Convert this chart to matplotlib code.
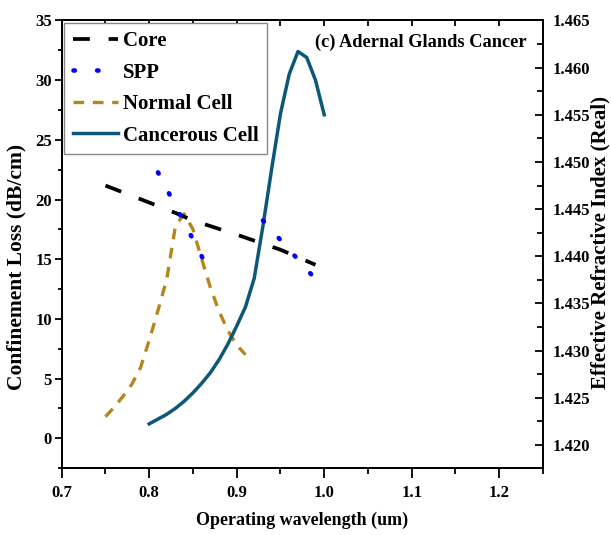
import numpy as np
import matplotlib
matplotlib.use("Agg")
import matplotlib.pyplot as plt
from matplotlib.ticker import MultipleLocator, FormatStrFormatter

plt.rcParams['font.family'] = ['Liberation Serif', 'DejaVu Serif']
plt.rcParams['font.weight'] = 'bold'

# ---- data ----
core_x = [0.75, 0.80, 0.83, 0.85, 0.90, 0.95, 0.99]
core_n = [1.4475, 1.4457, 1.4446, 1.4438, 1.4423, 1.4407, 1.4391]

spp_x = [0.81, 0.84, 0.865, 0.90, 0.93, 0.96, 0.985]
spp_n = [1.4489, 1.4436, 1.4391, np.nan, 1.4438, 1.4407, 1.4381]

normal_x = [0.75, 0.76, 0.77, 0.78, 0.79, 0.80, 0.81, 0.82, 0.83, 0.84,
            0.85, 0.86, 0.87, 0.88, 0.89, 0.90, 0.91]
normal_loss = [1.8, 2.6, 3.5, 4.5, 5.9, 8.2, 10.7, 13.3, 17.8, 18.8,
               17.5, 15.0, 12.6, 10.6, 9.0, 7.8, 7.0]

cancer_x = [0.80, 0.81, 0.82, 0.83, 0.84, 0.85, 0.86, 0.87, 0.88, 0.89, 0.90,
            0.91, 0.92, 0.93, 0.94, 0.95, 0.96, 0.97, 0.98, 0.99, 1.00]
cancer_loss = [1.2, 1.6, 2.0, 2.5, 3.1, 3.8, 4.6, 5.5, 6.6, 7.9, 9.4,
               11.0, 13.4, 17.8, 22.6, 27.2, 30.5, 32.4, 31.9, 30.0, 27.1]

fig = plt.figure(figsize=(6.11, 5.35), dpi=100)
ax = fig.add_axes([0.101, 0.1252, 0.7877, 0.8365])
ax2 = ax.twinx()

l_norm, = ax.plot(normal_x, normal_loss, color='#b5861c', lw=2.4,
                  dashes=(3.2, 2.6), label='Normal Cell')
l_canc, = ax.plot(cancer_x, cancer_loss, color='#0d5878', lw=2.5,
                  label='Cancerous Cell')
l_core, = ax2.plot(core_x, core_n, color='black', lw=2.7,
                   dashes=(4.5, 5.0), label='Core')
l_spp, = ax2.plot(spp_x, spp_n, color='#0000ff', lw=3.3,
                  dashes=(0.3, 4.85), dash_capstyle='round', label='SPP')

ax.set_xlim(0.7, 1.25)
ax.set_ylim(-2.5, 35)
ax2.set_ylim(1.41756, 1.465)

ax.xaxis.set_major_locator(MultipleLocator(0.1))
ax.xaxis.set_minor_locator(MultipleLocator(0.05))
ax.yaxis.set_major_locator(MultipleLocator(5))
ax.yaxis.set_minor_locator(MultipleLocator(2.5))
ax2.yaxis.set_major_locator(MultipleLocator(0.005))
ax2.yaxis.set_minor_locator(MultipleLocator(0.0025))
ax2.yaxis.set_major_formatter(FormatStrFormatter('%.3f'))

ax.tick_params(axis='x', which='major', direction='out', length=7, width=1.3,
               labelsize=12, pad=5.5)
ax.tick_params(axis='x', which='minor', direction='out', length=4, width=1.3)
ax.tick_params(axis='y', which='major', direction='out', length=5, width=1.3,
               labelsize=12, pad=2)
ax.tick_params(axis='y', which='minor', direction='out', length=3, width=1.3)
ax2.tick_params(axis='y', which='major', direction='in', length=6, width=1.3,
                labelsize=12, pad=7)
ax2.tick_params(axis='y', which='minor', direction='in', length=4, width=1.3)

sec = ax.secondary_xaxis('top')
sec.xaxis.set_major_locator(MultipleLocator(0.05))
sec.tick_params(direction='in', length=4.5, width=1.3, labeltop=False)

for a in (ax, ax2):
    for s in a.spines.values():
        s.set_linewidth(1.3)
for s in sec.spines.values():
    s.set_linewidth(1.3)

for lab in ax.get_xticklabels() + ax.get_yticklabels() + ax2.get_yticklabels():
    lab.set_fontweight('bold')

ax.set_xlabel('Operating wavelength (um)', fontsize=13, fontweight='bold')
ax.xaxis.set_label_coords(0.5, -0.098)
ax.set_ylabel('Confinement Loss (dB/cm)', fontsize=15.5, fontweight='bold')
ax.yaxis.set_label_coords(-0.074, 0.45)
ax2.set_ylabel('Effective Refractive Index (Real)', fontsize=15, fontweight='bold')
ax2.yaxis.set_label_coords(1.099, 0.503)

ax.text(0.967, 0.952, '(c) Adernal Glands Cancer', transform=ax.transAxes,
        ha='right', va='center', fontsize=13.2, fontweight='bold')

leg = ax2.legend(handles=[l_core, l_spp, l_norm, l_canc], loc='upper left',
                 prop={'size': 15, 'weight': 'bold'}, fancybox=False,
                 edgecolor='#888888', framealpha=1, borderaxespad=0.12,
                 handlelength=2.2, handletextpad=0.2, labelspacing=0.55,
                 borderpad=0.4)
leg.get_frame().set_linewidth(1.0)

fig.savefig('out.png', dpi=100)
